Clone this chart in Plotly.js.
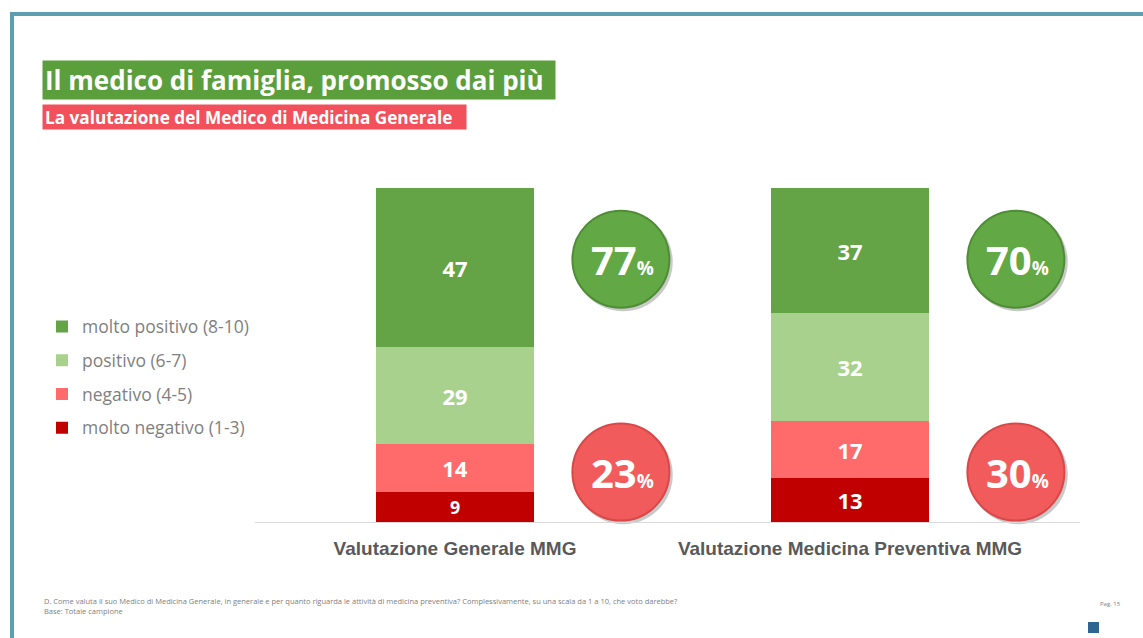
<!DOCTYPE html>
<html>
<head>
<meta charset="utf-8">
<script src="https://cdn.plot.ly/plotly-3.0.1.min.js"></script>
<style>html,body{margin:0;padding:0;background:#fff;}#chart{width:1143px;height:638px;}</style>
</head>
<body>
<div id="chart"></div>
<script>
// ---- data ----
const categories = ["Valutazione Generale MMG", "Valutazione Medicina Preventiva MMG"];
const seriesNames = ["molto negativo (1-3)", "negativo (4-5)", "positivo (6-7)", "molto positivo (8-10)"];
const moltoNegativo = [9, 13];
const negativo = [14, 17];
const positivo = [29, 32];
const moltoPositivo = [47, 37];
const positiveShare = [77, 70];
const negativeShare = [23, 30];
const titleText = "Il medico di famiglia, promosso dai più";
const subtitleText = "La valutazione del Medico di Medicina Generale";

// ---- styling / layout constants ----
const W = 1143, H = 638;
const M = {l: 255, r: 63, t: 185, b: 116};
const PW = W - M.l - M.r, PH = H - M.t - M.b;
const px = x => (x - M.l) / PW;
const py = y => (H - M.b - y) / PH;
const colors = ["#c00000", "#ff6b6b", "#a9d18e", "#64a346"];
const seriesValues = [moltoNegativo, negativo, positivo, moltoPositivo];
const xs = categories.map((c, i) => i);

const traces = seriesValues.map((vals, k) => ({
  type: "bar",
  x: xs,
  y: vals,
  name: seriesNames[k],
  legendgroup: "g" + k,
  legendrank: 10 - k,
  marker: {color: colors[k], line: {width: 0}},
  width: 0.4,
  text: vals.map(String),
  textposition: "inside",
  insidetextanchor: "middle",
  textangle: 0,
  textfont: {family: "Open Sans, sans-serif", size: 22, color: "#ffffff", weight: 700},
  hoverinfo: "skip"
}));

// circle badges
const circX = xs.map(i => i + 0.42);
const circYpos = [78, 78];
const circYneg = [14.8, 14.8];
function circleTrace(y, color, lineColor) {
  return {type: "scatter", mode: "markers", x: circX, y: y, showlegend: false, hoverinfo: "skip",
    marker: {size: 97, color: color, line: {color: lineColor, width: 2}}, cliponaxis: false};
}
function shadowTrace(y) {
  return {type: "scatter", mode: "markers", x: circX.map(v => v + 0.006), y: y.map(v => v - 0.8), showlegend: false, hoverinfo: "skip",
    marker: {size: 99, color: "rgba(60,60,60,0.28)", line: {width: 0}}, cliponaxis: false};
}
traces.push(shadowTrace(circYpos), shadowTrace(circYneg));
traces.push(circleTrace(circYpos, "#62a844", "#4f8c36"));
traces.push(circleTrace(circYneg, "#f25b5b", "#d94848"));

const annotations = [];
xs.forEach(i => {
  annotations.push({x: circX[i] + 0.005, y: circYpos[i], xref: "x", yref: "y", showarrow: false,
    text: "<b>" + positiveShare[i] + "</b><span style='font-size:19px'><b>%</b></span>",
    font: {family: "Open Sans, sans-serif", size: 40, color: "#ffffff"}});
  annotations.push({x: circX[i] + 0.005, y: circYneg[i], xref: "x", yref: "y", showarrow: false,
    text: "<b>" + negativeShare[i] + "</b><span style='font-size:19px'><b>%</b></span>",
    font: {family: "Open Sans, sans-serif", size: 40, color: "#ffffff"}});
});
// title boxes
annotations.push({xref: "paper", yref: "paper", x: px(42), y: py(60), xanchor: "left", yanchor: "top",
  showarrow: false, text: "<b>" + titleText + "</b>", align: "left", width: 508, height: 34, borderpad: 2,
  bgcolor: "#5b9e3c", font: {family: "Open Sans, sans-serif", size: 26, color: "#ffffff"}});
annotations.push({xref: "paper", yref: "paper", x: px(42), y: py(104), xanchor: "left", yanchor: "top",
  showarrow: false, text: "<b>" + subtitleText + "</b>", align: "left", width: 419, height: 20, borderpad: 2,
  bgcolor: "#f2505a", font: {family: "Open Sans, sans-serif", size: 17.2, color: "#ffffff"}});
// footnote
annotations.push({xref: "paper", yref: "paper", x: px(42), y: py(594), xanchor: "left", yanchor: "top",
  showarrow: false, align: "left",
  text: "D. Come valuta il suo Medico di Medicina Generale, in generale e per quanto riguarda le attività di medicina preventiva? Complessivamente, su una scala da 1 a 10, che voto darebbe?<br>Base: Totale campione",
  font: {family: "Open Sans, sans-serif", size: 7.5, color: "#808080"}});
annotations.push({xref: "paper", yref: "paper", x: px(1110), y: py(598), xanchor: "center", yanchor: "top",
  showarrow: false, text: "Pag. 15", font: {family: "Open Sans, sans-serif", size: 6, color: "#808080"}});

const shapes = [
  {type: "rect", xref: "paper", yref: "paper", x0: px(12), x1: px(1160), y0: py(14), y1: py(660),
   line: {color: "#5d9fb0", width: 4}, fillcolor: "rgba(0,0,0,0)", layer: "above"},
  {type: "rect", xref: "paper", yref: "paper", x0: px(1088), x1: px(1099), y0: py(622), y1: py(633),
   line: {width: 0}, fillcolor: "#2f6690"}
];

const layout = {
  width: W, height: H,
  margin: M,
  paper_bgcolor: "#ffffff",
  plot_bgcolor: "#ffffff",
  barmode: "stack",
  bargap: 0,
  showlegend: true,
  legend: {x: px(42), xanchor: "left", y: py(377), yanchor: "middle", traceorder: "grouped",
    tracegroupgap: 8, font: {family: "Open Sans, sans-serif", size: 17.5, color: "#7f7f7f"},
    itemwidth: 30, bgcolor: "rgba(0,0,0,0)", itemclick: false, itemdoubleclick: false},
  xaxis: {range: [-200 / 395, 1 + 230 / 395], tickvals: xs, ticktext: categories, showgrid: false, zeroline: false,
    showline: true, linecolor: "#d9d9d9", linewidth: 1, ticks: "", ticklabelstandoff: 9,
    tickfont: {family: "Liberation Sans, Arial, sans-serif", size: 19, color: "#595959", weight: 700}, fixedrange: true},
  yaxis: {range: [0, 100], showgrid: false, zeroline: false, showline: false, showticklabels: false, ticks: "", fixedrange: true},
  annotations: annotations,
  shapes: shapes,
  font: {family: "Open Sans, sans-serif"}
};

Plotly.newPlot("chart", traces, layout, {displayModeBar: false, staticPlot: true});
</script>
</body>
</html>
